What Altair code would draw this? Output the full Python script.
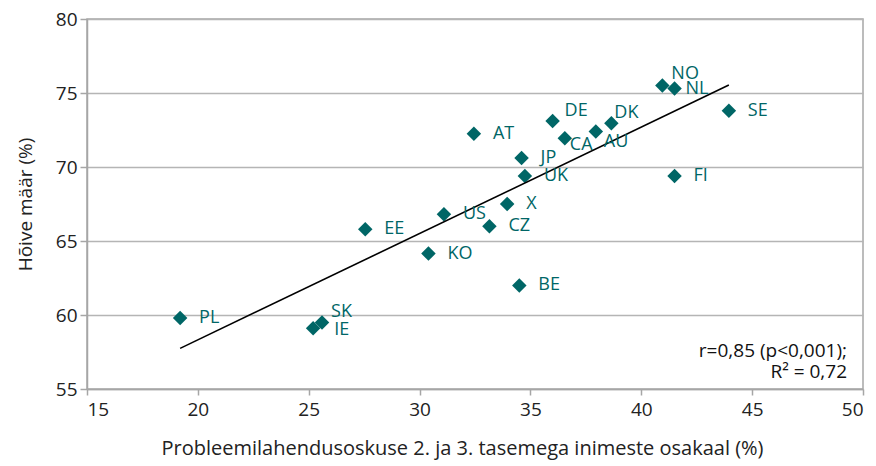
import altair as alt
import pandas as pd

countries = ["PL", "IE", "SK", "EE", "KO", "US", "CZ", "X", "BE", "AT", "JP", "UK",
             "DE", "CA", "AU", "DK", "NO", "NL", "SE", "FI"]
skill = [19.2, 25.2, 25.6, 27.55, 30.4, 31.1, 33.15, 33.95, 34.5, 32.45, 34.6, 34.75,
         36.0, 36.55, 37.95, 38.65, 40.95, 41.5, 43.95, 41.5]
employment = [59.8, 59.1, 59.5, 65.8, 64.15, 66.8, 66.0, 67.5, 62.0, 72.25, 70.6, 69.4,
              73.1, 71.95, 72.4, 72.95, 75.5, 75.3, 73.8, 69.4]

x_ticks = [15, 20, 25, 30, 35, 40, 45, 50]
y_ticks = [55, 60, 65, 70, 75, 80]
x_title = "Probleemilahendusoskuse 2. ja 3. tasemega inimeste osakaal (%)"
y_title = "Hõive määr (%)"
note_lines = ["r=0,85 (p<0,001);", "R² = 0,72"]

# label placement (pixel offsets) kept apart from the data
DEFAULT_OFFSET = (19, 0)
LABEL_OFFSETS = {"DE": (12, -10), "CA": (5, 7), "AU": (8, 11), "DK": (3, -10),
                 "NO": (9, -12), "NL": (11, 0), "SK": (9, -10), "IE": (21, 2)}

df = pd.DataFrame({"country": countries, "skill": skill, "employment": employment})

TEAL = "#006666"
FONT = "Open Sans"

x_scale = alt.Scale(domain=[15, 50], nice=False, zero=False)
y_scale = alt.Scale(domain=[55, 80], nice=False, zero=False)

x_enc = alt.X("skill:Q", scale=x_scale,
              axis=alt.Axis(values=x_ticks, title=x_title, grid=False, titlePadding=19,
                            labelPadding=5, tickSize=6, titleX=375, titleFontSize=20))
y_enc = alt.Y("employment:Q", scale=y_scale,
              axis=alt.Axis(values=y_ticks, title=y_title, grid=True, titlePadding=20,
                            labelPadding=3, tickSize=7, titleFontSize=19))

base = alt.Chart(df)

points = base.mark_point(shape="diamond", filled=True, size=210, color=TEAL,
                         opacity=1).encode(x=x_enc, y=y_enc)

trend = base.transform_regression("skill", "employment").mark_line(
    color="black", strokeWidth=1.6).encode(x=alt.X("skill:Q", scale=x_scale),
                                           y=alt.Y("employment:Q", scale=y_scale))

layers = [points, trend]


def label_layer(data_filter, ox, oy):
    return (base.transform_filter(data_filter)
            .mark_text(align="left", baseline="middle", dx=ox, dy=oy,
                       fontSize=18, font=FONT, color=TEAL)
            .encode(x=alt.X("skill:Q", scale=x_scale),
                    y=alt.Y("employment:Q", scale=y_scale),
                    text="country:N"))


default_names = [c for c in countries if c not in LABEL_OFFSETS]
layers.append(label_layer(alt.FieldOneOfPredicate(field="country", oneOf=default_names),
                          *DEFAULT_OFFSET))
for name, (ox, oy) in LABEL_OFFSETS.items():
    layers.append(label_layer(alt.datum.country == name, ox, oy))

note_df = pd.DataFrame({"line": note_lines})
for i, (line, ypix) in enumerate(zip(note_lines, [332, 353])):
    layers.append(
        alt.Chart(note_df).transform_filter(alt.datum.line == line)
        .mark_text(align="right", baseline="middle", fontSize=19, font=FONT,
                   color="#111111")
        .encode(x=alt.value(760), y=alt.value(ypix), text="line:N")
    )

chart = alt.layer(*layers).properties(
    width=776, height=370,
    autosize=alt.AutoSizeParams(type="none"),
    padding={"left": 79, "top": 11, "right": 5, "bottom": 76},
).configure_view(stroke="#a6a6a6", strokeWidth=1.5).configure_axis(
    labelFont=FONT, titleFont=FONT, labelFontSize=19,
    labelColor="#222222", titleColor="#222222", titleFontWeight="normal",
    domainColor="#a6a6a6", domainWidth=1.5, tickColor="#a6a6a6", tickWidth=1.5,
    gridColor="#b5b5b5", gridWidth=1.5,
)

chart.save("out.html", embed_options={"renderer": "svg", "actions": False})
